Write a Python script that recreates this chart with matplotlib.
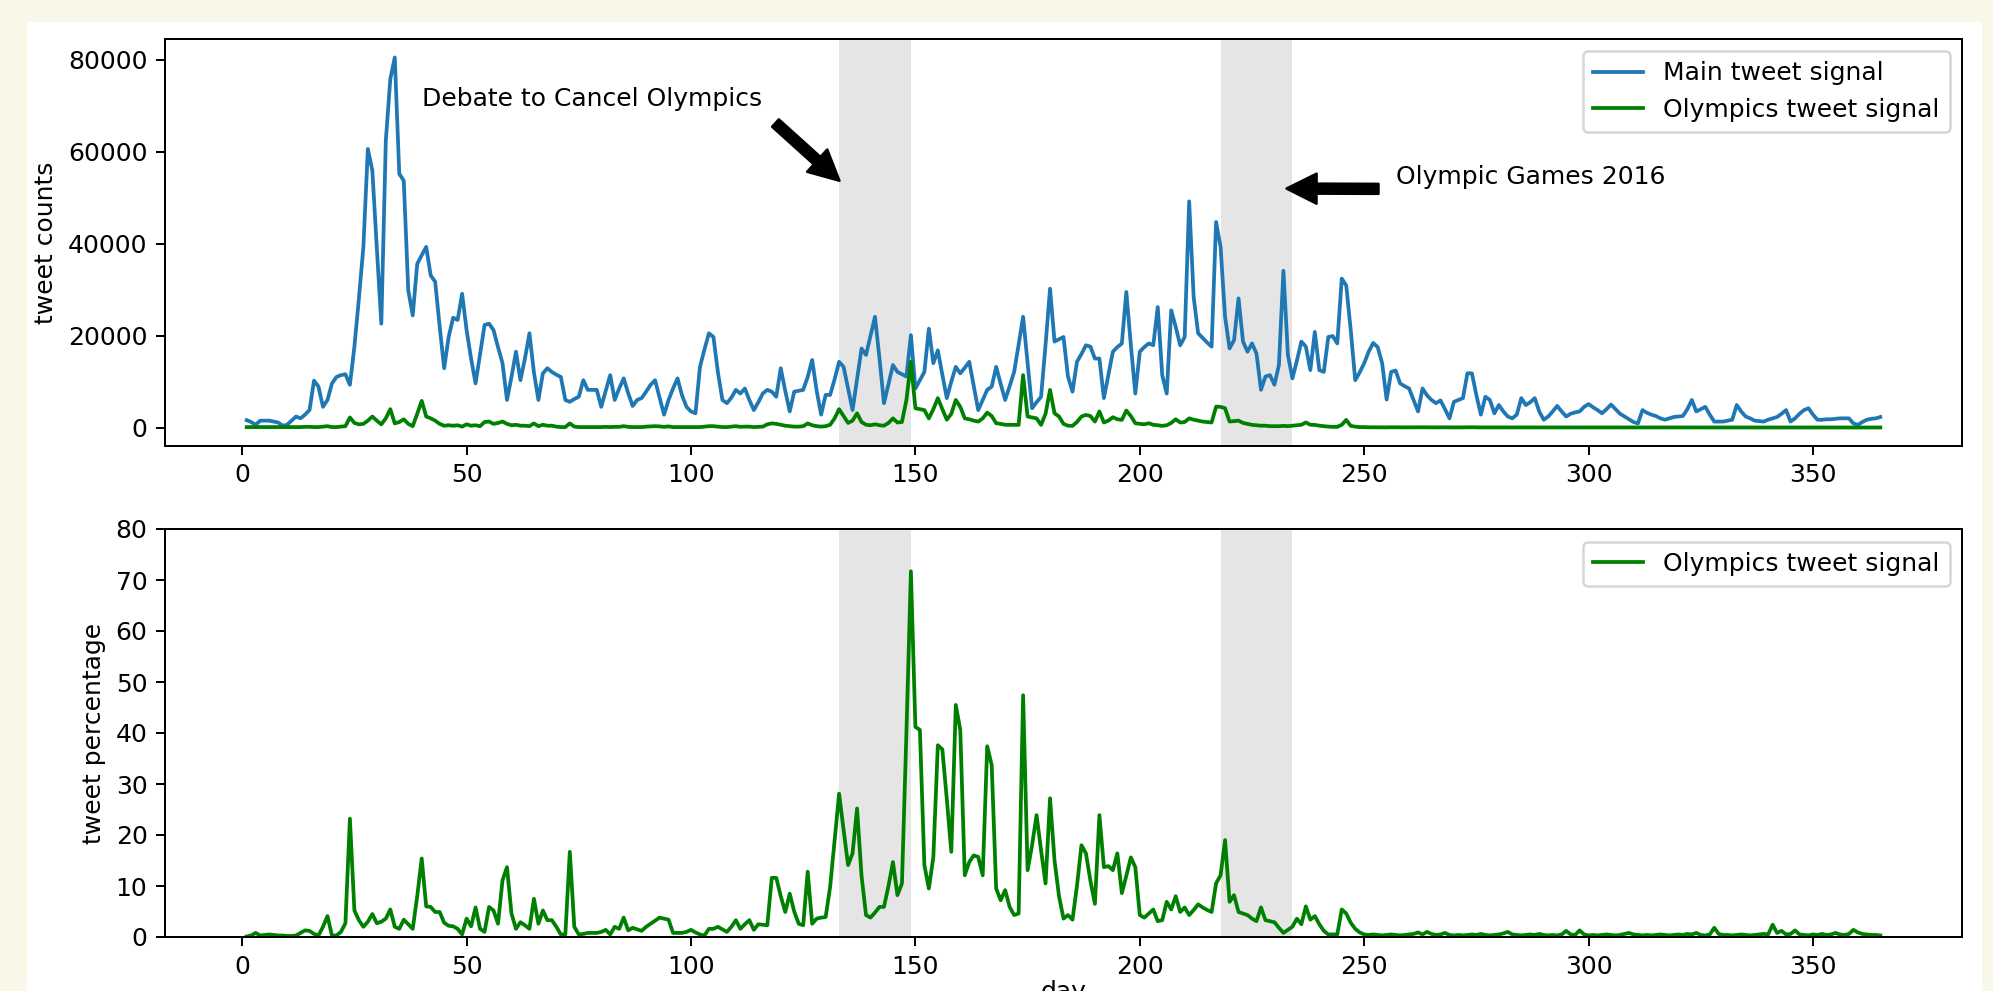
import matplotlib
matplotlib.use("Agg")
import matplotlib.pyplot as plt
from matplotlib.patches import Rectangle

# ---- Data (one value per day) ----
main_counts = [
    1600, 1200, 600, 1500, 1500, 1500, 1300, 1100, 400, 600,
    1500, 2400, 2000, 2800, 3800, 10200, 8900, 4500, 6000, 9600,
    11000, 11400, 11600, 9300, 17600, 28000, 39300, 60600, 55900, 39000,
    22600, 62400, 75800, 80500, 55200, 53700, 29900, 24400, 35600, 37500,
    39300, 33100, 31700, 22000, 12900, 19700, 23900, 23400, 29100, 21200,
    15000, 9600, 16000, 22300, 22600, 21200, 17500, 14000, 6000, 11000,
    16500, 10300, 15000, 20500, 12000, 6000, 11800, 12900, 12100, 11500,
    11000, 6000, 5600, 6200, 6700, 10300, 8200, 8200, 8200, 4500,
    8000, 11400, 6000, 8500, 10700, 7500, 4700, 6000, 6400, 7800,
    9300, 10300, 6500, 2800, 6000, 8500, 10700, 7000, 4500, 3500,
    3100, 13200, 17000, 20500, 19700, 12000, 6000, 5300, 6500, 8200,
    7400, 8500, 6000, 3800, 5500, 7400, 8200, 7800, 6700, 12900,
    8000, 3500, 7800, 8000, 8200, 11000, 14700, 8000, 2800, 7100,
    7100, 10500, 14300, 13200, 8500, 3800, 10500, 17200, 15800, 20000,
    24100, 15000, 5300, 9500, 13600, 12100, 11600, 11100, 20100, 8500,
    10300, 12100, 21500, 14000, 16800, 11500, 6400, 10000, 13200, 11800,
    13000, 14300, 9000, 3800, 6000, 8200, 8900, 13200, 9500, 6000,
    9000, 12100, 18000, 24100, 14000, 4200, 5500, 6700, 18000, 30200,
    18700, 19200, 19700, 11100, 7800, 14300, 16000, 17900, 17600, 15000,
    15000, 6400, 11500, 16500, 17500, 18300, 29500, 18000, 7400, 16500,
    17500, 18300, 17900, 26200, 11400, 7400, 25500, 21900, 17900, 19700,
    49200, 28400, 20500, 19500, 18500, 17600, 44700, 39300, 24100, 17200,
    19000, 28100, 18700, 16500, 18300, 16100, 8200, 11100, 11400, 9300,
    13600, 34100, 15800, 10700, 14500, 18700, 17600, 12500, 20800, 12500,
    12100, 19700, 19900, 18300, 32400, 30900, 21200, 10300, 12000, 14000,
    16500, 18400, 17500, 14000, 6100, 12100, 12400, 9600, 9000, 8500,
    6000, 3500, 8500, 7000, 6000, 5300, 5900, 4000, 2000, 5600,
    6000, 6400, 11800, 11800, 7000, 2800, 6700, 6000, 3100, 4900,
    3500, 2400, 2000, 2800, 6400, 4900, 5500, 6400, 3500, 1700,
    2400, 3500, 4700, 3500, 2400, 3000, 3300, 3500, 4500, 5100,
    4400, 3800, 3100, 4000, 5000, 4000, 3000, 2400, 1800, 1200,
    900, 3800, 3200, 2800, 2500, 2000, 1700, 2000, 2300, 2400,
    2500, 4000, 6000, 3500, 4000, 4500, 2800, 1300, 1300, 1300,
    1500, 1700, 4900, 3500, 2400, 2000, 1500, 1400, 1300, 1700,
    2000, 2300, 3000, 3800, 1300, 2000, 3000, 3800, 4200, 2800,
    1700, 1700, 1800, 1800, 1900, 2000, 2000, 2000, 900, 600,
    1200, 1700, 1900, 2000, 2300,
]

olympics_counts = [
    100, 100, 100, 100, 100, 100, 100, 100, 100, 100,
    100, 100, 100, 150, 150, 100, 100, 200, 300, 100,
    100, 200, 300, 2200, 1000, 700, 800, 1500, 2400, 1500,
    700, 2000, 4000, 900, 1200, 1800, 800, 300, 3000, 5800,
    2400, 2000, 1500, 800, 400, 500, 400, 500, 200, 700,
    400, 500, 300, 1200, 1300, 800, 1000, 1300, 800, 500,
    600, 400, 400, 300, 900, 300, 600, 400, 400, 200,
    100, 100, 900, 200, 100, 100, 100, 100, 100, 100,
    150, 100, 150, 150, 300, 150, 100, 100, 100, 200,
    250, 300, 250, 150, 250, 100, 100, 100, 100, 100,
    100, 100, 200, 300, 300, 200, 100, 100, 200, 300,
    150, 200, 200, 100, 150, 200, 700, 900, 800, 600,
    400, 300, 200, 200, 300, 900, 500, 300, 200, 300,
    600, 2000, 4000, 2500, 1000, 1500, 3100, 1200, 600, 500,
    700, 500, 400, 1000, 2000, 1100, 1200, 6000, 14300, 4200,
    4000, 3800, 2000, 4000, 6400, 4000, 1700, 3000, 6000, 4500,
    2000, 1800, 1500, 1300, 2000, 3250, 2500, 940, 800, 600,
    600, 600, 580, 11400, 2400, 2200, 2000, 580, 3000, 8200,
    3100, 2400, 800, 400, 360, 1200, 2400, 2750, 2500, 1300,
    3500, 1100, 1500, 2250, 1800, 1660, 3700, 2500, 940, 800,
    700, 940, 600, 500, 360, 500, 1000, 1800, 1100, 1200,
    2000, 1700, 1500, 1300, 1200, 1100, 4550, 4500, 4200, 1300,
    1400, 1500, 1000, 800, 580, 500, 400, 400, 300, 300,
    300, 360, 300, 400, 500, 600, 1100, 600, 580, 400,
    300, 200, 150, 150, 600, 1660, 360, 200, 100, 100,
    60, 50, 40, 50, 40, 60, 50, 40, 40, 50,
    40, 50, 60, 60, 40, 30, 40, 50, 30, 30,
    30, 30, 50, 60, 40, 30, 40, 30, 20, 30,
    30, 40, 20, 20, 30, 30, 40, 30, 30, 20,
    20, 20, 20, 20, 40, 20, 20, 50, 30, 20,
    20, 20, 20, 30, 20, 20, 20, 20, 20, 10,
    10, 20, 20, 10, 10, 10, 10, 10, 10, 20,
    20, 30, 30, 30, 20, 20, 20, 30, 10, 10,
    10, 10, 20, 20, 10, 10, 10, 10, 10, 10,
    50, 20, 40, 20, 10, 30, 20, 20, 10, 20,
    10, 10, 10, 10, 20, 10, 10, 10, 10, 10,
    10, 10, 10, 10, 10,
]

olympics_pct = [
    0.1, 0.3, 0.8, 0.3, 0.4, 0.5, 0.4, 0.3, 0.3, 0.2,
    0.2, 0.3, 0.8, 1.3, 1.2, 0.6, 0.3, 2.0, 4.1, 0.3,
    0.3, 1.0, 2.7, 23.2, 5.2, 3.3, 2.0, 3.0, 4.5, 2.7,
    3.0, 3.6, 5.4, 2.0, 1.6, 3.4, 2.5, 1.6, 8.0, 15.4,
    6.0, 5.9, 4.9, 4.9, 2.8, 2.2, 2.1, 1.6, 0.5, 3.6,
    2.1, 5.8, 1.6, 1.0, 5.9, 5.2, 2.6, 11.1, 13.7, 4.6,
    1.6, 2.9, 2.3, 1.6, 7.5, 2.6, 5.2, 3.3, 3.3, 2.0,
    0.5, 0.5, 16.7, 2.0, 0.5, 0.6, 0.8, 0.8, 0.8, 1.0,
    1.4, 0.5, 2.0, 1.6, 3.8, 1.3, 1.8, 1.5, 1.2, 2.0,
    2.6, 3.2, 3.8, 3.6, 3.4, 0.8, 0.8, 0.8, 1.0, 1.4,
    0.9, 0.5, 0.3, 1.6, 1.6, 2.0, 1.5, 1.0, 2.0, 3.3,
    1.6, 2.5, 3.3, 1.4, 2.5, 2.4, 2.3, 11.6, 11.6, 8.0,
    4.9, 8.5, 5.0, 2.6, 2.3, 12.8, 2.6, 3.6, 3.8, 3.9,
    9.8, 19.0, 28.1, 21.0, 14.1, 16.4, 25.2, 12.0, 4.3, 3.8,
    4.8, 5.9, 5.9, 10.0, 14.7, 8.2, 10.5, 40.0, 71.7, 41.2,
    40.6, 14.1, 9.5, 15.7, 37.6, 36.8, 27.0, 16.7, 45.5, 40.6,
    12.1, 14.7, 16.0, 15.7, 12.1, 37.4, 33.7, 9.5, 7.2, 9.2,
    5.9, 4.3, 4.6, 47.4, 13.1, 18.0, 23.9, 17.0, 10.5, 27.2,
    15.0, 8.0, 3.6, 4.3, 3.4, 10.0, 18.0, 16.4, 11.0, 6.5,
    23.9, 13.7, 13.9, 13.1, 16.4, 8.6, 12.0, 15.6, 13.7, 4.3,
    3.8, 4.6, 5.4, 3.1, 3.3, 6.9, 5.4, 8.0, 4.9, 5.8,
    4.3, 5.3, 6.4, 5.8, 5.3, 4.9, 10.5, 12.1, 19.0, 6.9,
    8.2, 4.9, 4.6, 4.3, 3.6, 3.1, 5.8, 3.3, 3.1, 2.9,
    1.8, 0.8, 1.4, 2.0, 3.6, 2.5, 6.0, 3.4, 4.1, 2.5,
    1.2, 0.5, 0.5, 0.5, 5.4, 4.6, 2.8, 1.6, 0.9, 0.5,
    0.4, 0.5, 0.4, 0.3, 0.4, 0.5, 0.4, 0.3, 0.4, 0.5,
    0.6, 0.9, 0.5, 1.0, 0.6, 0.4, 0.5, 0.8, 0.4, 0.3,
    0.4, 0.3, 0.4, 0.5, 0.4, 0.6, 0.4, 0.3, 0.4, 0.5,
    0.7, 1.0, 0.5, 0.4, 0.3, 0.4, 0.5, 0.4, 0.6, 0.4,
    0.3, 0.4, 0.3, 0.5, 1.2, 0.5, 0.4, 1.3, 0.5, 0.3,
    0.4, 0.3, 0.4, 0.5, 0.4, 0.3, 0.4, 0.6, 0.8, 0.5,
    0.4, 0.3, 0.4, 0.3, 0.4, 0.5, 0.4, 0.3, 0.4, 0.5,
    0.4, 0.6, 0.5, 0.8, 0.4, 0.3, 0.5, 1.8, 0.6, 0.4,
    0.4, 0.3, 0.4, 0.5, 0.4, 0.3, 0.4, 0.5, 0.6, 0.5,
    2.4, 0.8, 1.2, 0.5, 0.6, 1.3, 0.5, 0.4, 0.3, 0.5,
    0.4, 0.6, 0.4, 0.5, 0.8, 0.5, 0.4, 0.6, 1.4, 0.9,
    0.6, 0.5, 0.4, 0.4, 0.3,
]

days = list(range(1, len(main_counts) + 1))

debate_span = (133, 149)   # debate to cancel the games
games_span = (218, 234)    # Rio 2016

# ---- Figure ----
W, H, DPI = 1993, 991, 180
fig = plt.figure(figsize=(W / DPI, H / DPI), dpi=DPI, facecolor="#f8f7e8")
# white sheet the plot sits on (page background shows round it)
fig.add_artist(Rectangle((27 / W, 0), (1982 - 27) / W, 1 - 22 / H,
                         transform=fig.transFigure, facecolor="white",
                         edgecolor="none", zorder=-1))

ax1 = fig.add_axes([165 / W, 1 - 446 / H, 1797 / W, 407 / H])
ax2 = fig.add_axes([165 / W, 1 - 937 / H, 1797 / W, 408 / H])

# top panel: counts
ax1.plot(days, main_counts, color="#1f77b4", label="Main tweet signal")
ax1.plot(days, olympics_counts, color="green", label="Olympics tweet signal")
for start, end in (debate_span, games_span):
    ax1.axvspan(start, end, color="grey", alpha=0.2, lw=0)
ax1.set_ylabel("tweet counts")
ax1.legend(loc="upper right")
ax1.annotate("Debate to Cancel Olympics", xy=(135, 52000), xytext=(40, 70000),
             arrowprops=dict(facecolor="black", shrink=0.1))
ax1.annotate("Olympic Games 2016", xy=(230, 52000), xytext=(257, 53000),
             arrowprops=dict(facecolor="black", shrink=0.1))

# bottom panel: percentage
ax2.plot(days, olympics_pct, color="green", label="Olympics tweet signal")
for start, end in (debate_span, games_span):
    ax2.axvspan(start, end, color="grey", alpha=0.2, lw=0)
ax2.set_ylim(0, 80)
ax2.set_xlim(ax1.get_xlim())
ax2.set_ylabel("tweet percentage")
# the page crops the figure just through the x label, as in the source
ax2.set_xlabel("day", labelpad=0.5)
ax2.legend(loc="upper right")

fig.savefig("out.png", dpi=DPI, facecolor=fig.get_facecolor())
